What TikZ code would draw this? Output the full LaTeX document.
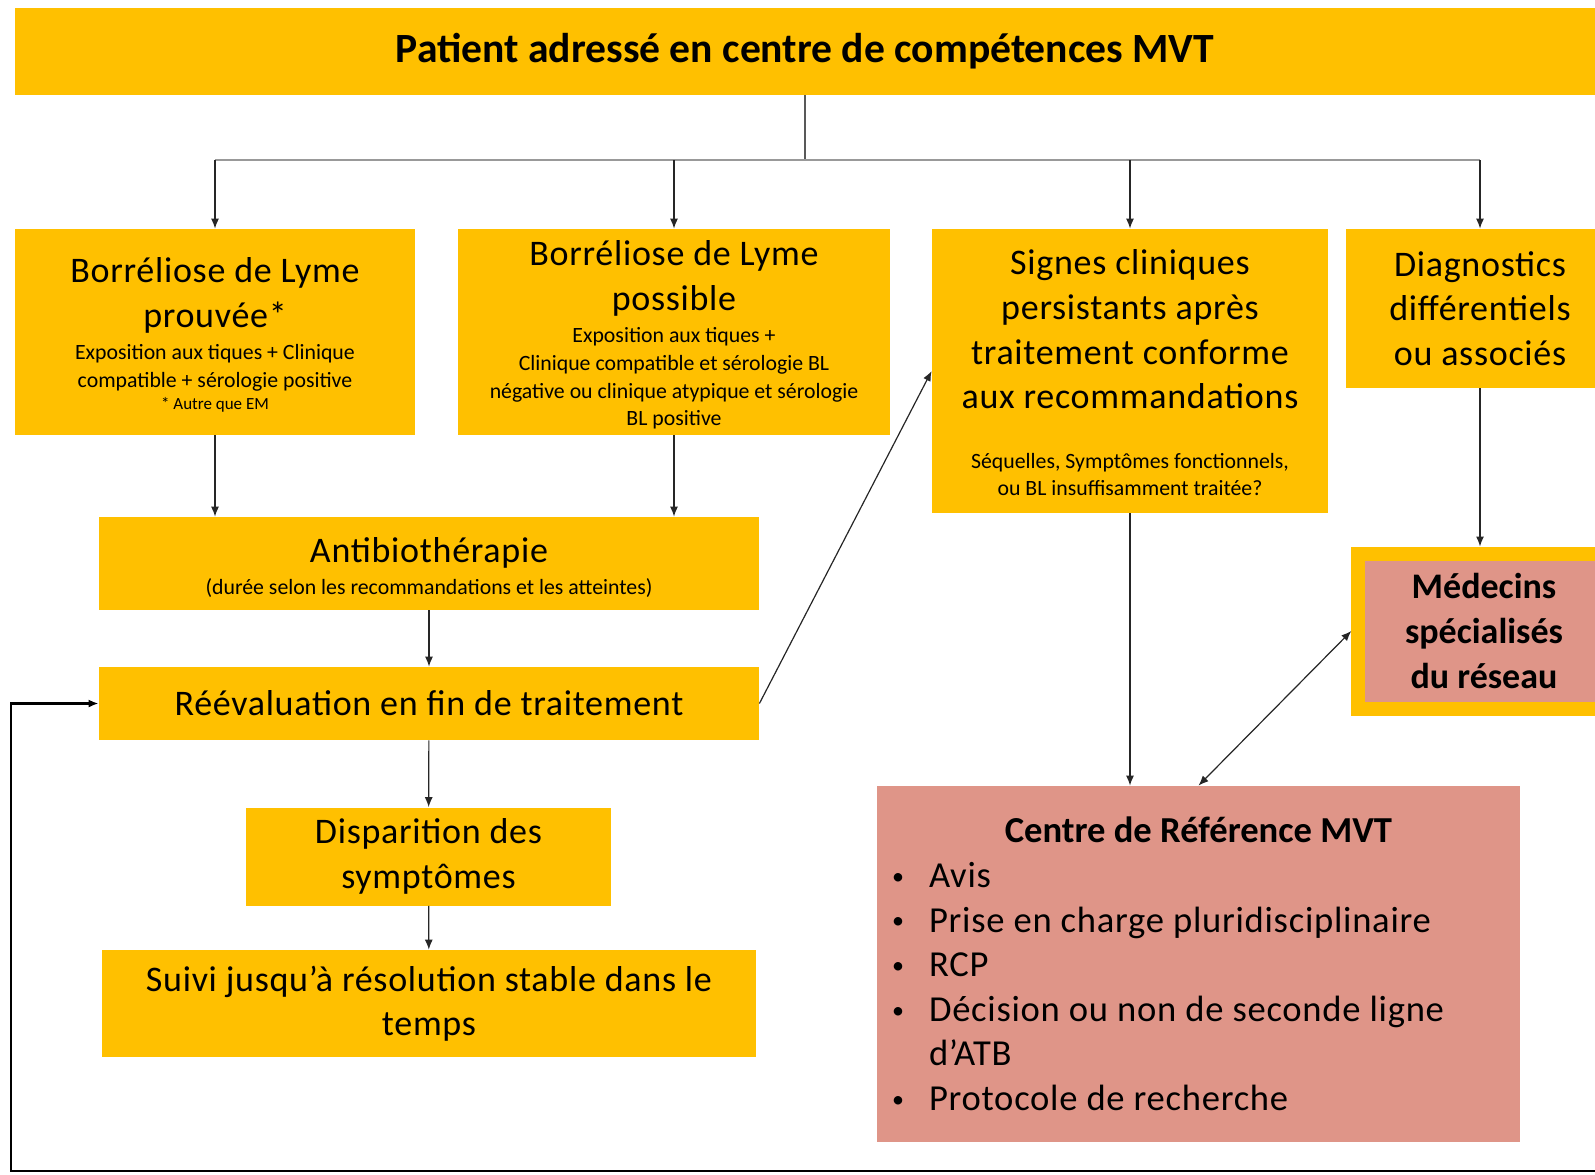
\documentclass[tikz,border=0pt]{standalone}
\usepackage{fontspec}
\setmainfont{Carlito}
\newfontfamily\spaced{Carlito}[LetterSpace=2]
\usetikzlibrary{arrows.meta,calc}

\definecolor{boxgold}{RGB}{255,192,0}
\definecolor{boxpink}{RGB}{223,149,136}

\newcommand{\smalltxt}{\normalfont\fontsize{10.9}{13.8}\selectfont}
\newcommand{\tinytxt}{\normalfont\fontsize{8.5}{11}\selectfont}
\newcommand{\puce}{\makebox[20pt][l]{\hspace{1.5pt}\raisebox{1.6pt}{\fontsize{12}{12}\selectfont\textbullet}}}
% extra room above the first line
\newcommand{\haut}[1]{\rule{0pt}{\dimexpr\fontcharht\font`\l+#1\relax}\rule{0pt}{\dimexpr\fontcharht\font`\é+#1\relax}}

\tikzset{
  box/.style={fill=boxgold, align=flush center, inner sep=0pt, font=\spaced\fontsize{18}{22.3}\selectfont},
  pinkbox/.style={fill=boxpink, inner sep=0pt, font=\spaced\fontsize{18.3}{22.3}\selectfont},
  arr/.style={-{Latex[length=5pt,width=4pt]}, line width=0.6pt, black!85},
  trunk/.style={line width=1.4pt, black!65},
  branch/.style={line width=1pt, black!40},
  retour/.style={line width=1.2pt, black},
}

\begin{document}
\begin{tikzpicture}[x=0.5pt, y=-0.5pt]
  \path[use as bounding box, clip] (0,0) rectangle (1595,1174);

  % top box
  \node[box, text width=790pt, minimum height=43.5pt, font=\normalfont\fontsize{20.8}{24}\selectfont\bfseries] (patient) at (805,51.5) {Patient adressé en centre de compétences MVT};

  % four categories
  \node[box, text width=200pt, minimum height=103pt] (prouvee) at (215,332)
    {\haut{3pt}Borréliose de Lyme\\prouvée*\par\vspace{2.5pt}
     {\smalltxt Exposition aux tiques + Clinique\\compatible + sérologie positive\par}
     {\tinytxt * Autre que EM\par}};
  \node[box, text width=216pt, minimum height=103pt] (possible) at (674,332)
    {\haut{3pt}Borréliose de Lyme\\possible\par\vspace{2.5pt}
     {\smalltxt Exposition aux tiques +\\Clinique compatible et sérologie BL\\négative ou clinique atypique et sérologie\\BL positive\par}};
  \node[box, text width=198pt, minimum height=142pt] (signes) at (1130,371)
    {\haut{2pt}Signes cliniques\\persistants après\\traitement conforme\\aux recommandations\par\vspace{16pt}
     {\smalltxt Séquelles, Symptômes fonctionnels,\\ou BL insuffisamment traitée?\par}};
  \node[box, text width=134pt, minimum height=79.5pt] (diag) at (1480,308.5)
    {Diagnostics\\différentiels\\ou associés};

  % left column
  \node[box, text width=330pt, minimum height=46.5pt] (atb) at (429,563.5)
    {\haut{4pt}Antibiothérapie\par\vspace{2.5pt}
     {\smalltxt (durée selon les recommandations et les atteintes)\par}};
  \node[box, text width=330pt, minimum height=36.5pt] (reev) at (429,703.5)
    {Réévaluation en fin de traitement};
  \node[box, text width=182.5pt, minimum height=49pt] (dispar) at (428.5,856.5)
    {Disparition des\\symptômes};
  \node[box, text width=327pt, minimum height=53.5pt] (suivi) at (429,1003.5)
    {Suivi jusqu’à résolution stable dans le\\temps};

  % right column
  \node[pinkbox, draw=boxgold, line width=7pt, text width=125.75pt, minimum height=77.5pt, align=flush center, font=\normalfont\fontsize{18}{22.3}\selectfont\bfseries] (medecins) at (1484,631)
    {Médecins\\spécialisés\\du réseau};
  \node[pinkbox, text width=309.5pt, inner xsep=6pt, minimum height=178pt, align=flush left] (cref) at (1198.5,964)
    {\makebox[309.5pt]{\normalfont\bfseries Centre de Référence MVT}\\
     \puce Avis\\
     \puce Prise en charge pluridisciplinaire\\
     \puce RCP\\
     \puce Décision ou non de seconde ligne\\
     \hspace*{20pt}d’ATB\\
     \puce Protocole de recherche};

  % split from the top box
  \coordinate (split) at (805,160);
  \draw[trunk] (patient.south) -- (split);
  \draw[branch] (prouvee |- split) -- (diag |- split);
  \foreach \n in {prouvee, possible, signes, diag}
    \draw[arr] (\n |- split) -- (\n.north);

  % arrows
  \draw[arr] (prouvee.south) -- (prouvee.south |- atb.north);
  \draw[arr] (possible.south) -- (possible.south |- atb.north);
  \draw[arr] (atb) -- (reev);
  \draw[arr] (reev) -- (dispar);
  \draw[arr] (dispar) -- (suivi);
  \draw[arr] (reev.east) -- (signes.west);
  \draw[arr] (signes.south) -- (signes.south |- cref.north);
  \draw[arr] (diag.south) -- (diag.south |- medecins.north);
  \draw[arr, {Latex[length=5pt,width=4pt]}-{Latex[length=5pt,width=4pt]}] (cref.north) -- (medecins.west);

  % loop back
  \coordinate (loopend) at (1595,1171);
  \coordinate (loopcorner) at (11,1171);
  \draw[retour, -{Latex[length=5pt,width=4pt]}] (loopend) -- (loopcorner) |- (reev.west);
\end{tikzpicture}
\end{document}
